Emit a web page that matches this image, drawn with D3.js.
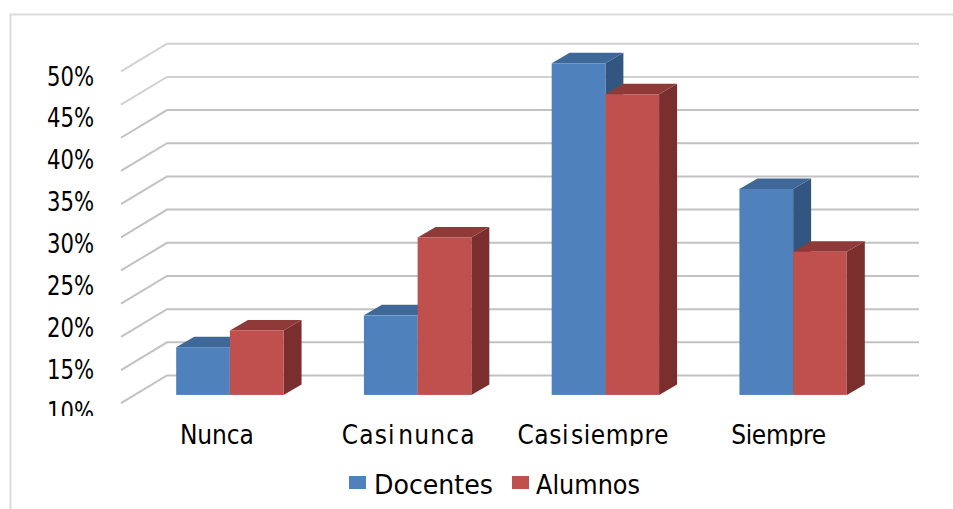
<!DOCTYPE html>
<html><head><meta charset="utf-8">
<script src="https://cdn.jsdelivr.net/npm/d3@7/dist/d3.min.js"></script>
<style>
html,body{margin:0;padding:0;background:#fff}
svg{display:block}
text{font-family:"DejaVu Sans Condensed","DejaVu Sans",sans-serif;fill:#000;font-stretch:condensed}
</style></head><body><div id="c"></div>
<script>
const categories = ["Nunca","Casi nunca","Casi siempre","Siempre"];
const docentes = [17.5,21.3,51.4,36.4];
const alumnos = [19.5,30.6,47.7,28.9];
const tickLabels = [10,15,20,25,30,35,40,45,50];
const gridLevels = [0,1,2,3,4,5,6,7,8,9,10];
const seriesNames = ["Docentes","Alumnos"];
const baseValue = 11.8;

const W=953,H=509;
const svg=d3.select("#c").append("svg").attr("width",W).attr("height",H);
const defs=svg.append("defs");
defs.append("clipPath").attr("id","cy").append("rect").attr("x",0).attr("y",0).attr("width",118).attr("height",416);
defs.append("clipPath").attr("id","cx").append("rect").attr("x",120).attr("y",410).attr("width",780).attr("height",36);

// frame
svg.append("path").attr("d",`M10.5,${H}V14.5H${W}`).attr("fill","none").attr("stroke","#dcdcdc").attr("stroke-width",2);

const y=d3.scaleLinear().domain([10,50]).range([410,75]);
const grid=d3.scaleLinear().domain([0,10]).range([375.5,43.7]);
const x=d3.scaleBand().domain(categories).range([136,887]).paddingInner(0.428).paddingOuter(0.214);
const dx=18,dy=-10.5,floorDx=46,floorDy=27.7;

// gridlines
svg.append("g").selectAll("path").data(gridLevels).join("path")
 .attr("d",d=>`M${167-floorDx},${grid(d)+floorDy}L167,${grid(d)}H919`)
 .attr("fill","none").attr("stroke",d=>d>=9?"#d2d2d2":"#c2c2c2").attr("stroke-width",2);

// tick labels
svg.append("g").attr("clip-path","url(#cy)").selectAll("text").data(tickLabels).join("text")
 .attr("x",94).attr("y",d=>y(d)+10.5).attr("text-anchor","end").attr("font-size",26)
 .attr("textLength",47).attr("lengthAdjust","spacingAndGlyphs")
 .text(d=>d+"%");

// bars
const series=[
 {name:seriesNames[0],vals:docentes,off:0,front:"#4f81bd",top:"#3f6797",side:"#335680"},
 {name:seriesNames[1],vals:alumnos,off:1,front:"#c0504d",top:"#8f3a38",side:"#7a2f2e"}];
const bw=x.bandwidth()/2;
categories.forEach((c,i)=>{
 series.forEach(s=>{
  const x0=x(c)+s.off*bw,x1=x0+bw,yt=y(s.vals[i]),yb=y(baseValue);
  const g=svg.append("g");
  g.append("path").attr("fill",s.side).attr("d",`M${x1},${yt}L${x1+dx},${yt+dy}V${yb+dy}L${x1},${yb}Z`);
  g.append("path").attr("fill",s.top).attr("d",`M${x0},${yt}L${x0+dx},${yt+dy}H${x1+dx}L${x1},${yt}Z`);
  g.append("rect").attr("fill",s.front).attr("x",x0).attr("y",yt).attr("width",bw).attr("height",yb-yt);
 });
});

// category labels
const catShift=[0,3.5,0.5,-1.5], catLen=[74,133,151,95];
svg.append("g").attr("clip-path","url(#cx)").selectAll("text").data(categories).join("text")
 .attr("x",(d,i)=>x(d)+x.bandwidth()/2-13+catShift[i]).attr("y",444).attr("text-anchor","middle").attr("font-size",26)
 .attr("word-spacing",-6)
 .attr("textLength",(d,i)=>catLen[i]).attr("lengthAdjust","spacing")
 .text(d=>d);

// legend
const legendX=[349,512], legendLen=[119,104];
const lg=svg.append("g");
series.forEach((s,i)=>{
 lg.append("rect").attr("x",legendX[i]).attr("y",476).attr("width",17).attr("height",13).attr("fill",s.front);
 lg.append("text").attr("x",legendX[i]+(i?24:25)).attr("y",494).attr("font-size",26)
  .attr("textLength",legendLen[i]).attr("lengthAdjust","spacingAndGlyphs").text(s.name);
});
</script></body></html>
